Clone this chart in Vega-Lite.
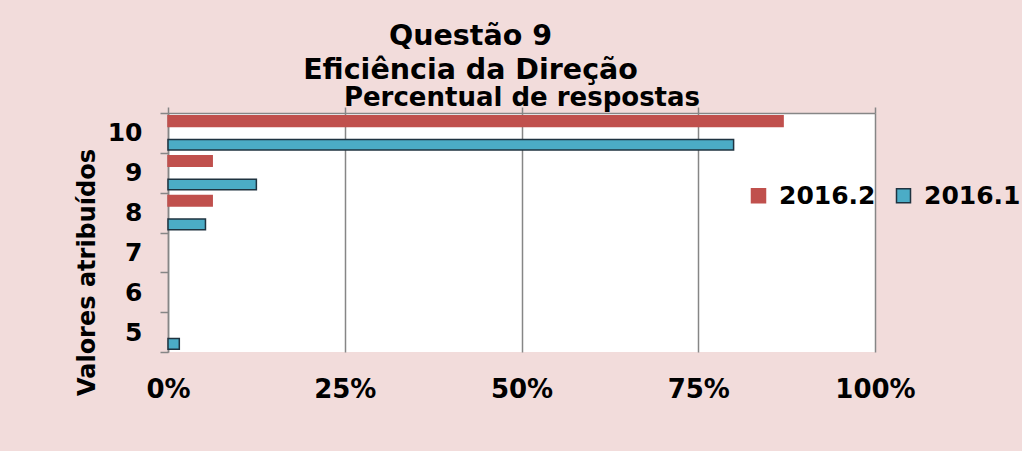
{
  "$schema": "https://vega.github.io/schema/vega-lite/v6.json",
  "width": 707,
  "height": 239,
  "autosize": "none",
  "padding": {"left": 168, "top": 113, "right": 147, "bottom": 99},
  "background": "#F2DCDB",
  "view": {"fill": "white", "stroke": null},
  "title": {
    "text": ["Questão 9", "Eficiência da Direção"],
    "font": "DejaVu Sans",
    "fontSize": 28.5,
    "fontWeight": "bold",
    "color": "black",
    "lineHeight": 34,
    "anchor": "middle",
    "dx": -51,
    "offset": 0
  },
  "data": {
    "values": [
      {"valor": "10", "ano": "2016.2", "pct": 0.87},
      {"valor": "10", "ano": "2016.1", "pct": 0.80},
      {"valor": "9", "ano": "2016.2", "pct": 0.0625},
      {"valor": "9", "ano": "2016.1", "pct": 0.125},
      {"valor": "8", "ano": "2016.2", "pct": 0.0625},
      {"valor": "8", "ano": "2016.1", "pct": 0.053},
      {"valor": "5", "ano": "2016.1", "pct": 0.016}
    ]
  },
  "encoding": {
    "y": {
      "field": "valor",
      "type": "nominal",
      "scale": {"domain": ["10", "9", "8", "7", "6", "5"], "paddingInner": 0, "paddingOuter": 0},
      "axis": {
        "title": "Valores atribuídos",
        "titleFont": "DejaVu Sans",
        "titleFontSize": 24,
        "titleFontWeight": "bold",
        "titleColor": "black",
        "titleX": -74,
        "titleY": 159,
        "titleAngle": -90,
        "titleBaseline": "alphabetic",
        "titleAlign": "center",
        "labelFont": "DejaVu Sans",
        "labelFontSize": 25,
        "labelFontWeight": "bold",
        "labelColor": "black",
        "labelPadding": 18,
        "labelAngle": 0,
        "tickBand": "extent",
        "tickSize": 8,
        "tickColor": "#868686",
        "tickWidth": 1.5,
        "domainColor": "#868686",
        "domainWidth": 1.5,
        "grid": false
      }
    },
    "yOffset": {
      "field": "ano",
      "type": "nominal",
      "scale": {"domain": ["2016.2", "2016.1"], "paddingInner": 0.55, "paddingOuter": 0.12}
    }
  },
  "layer": [
    {
      "mark": {"type": "bar", "opacity": 0},
      "encoding": {
        "x": {
          "field": "pct",
          "type": "quantitative",
          "scale": {"domain": [0, 1]},
          "axis": {
            "orient": "top",
            "values": [0, 0.25, 0.5, 0.75, 1],
            "labels": false,
            "ticks": true,
            "tickSize": 6,
            "tickColor": "#868686",
            "tickWidth": 1.5,
            "domain": true,
            "domainColor": "#868686",
            "domainWidth": 1.5,
            "grid": true,
            "gridColor": "#868686",
            "gridWidth": 1.5,
            "title": "Percentual de respostas",
            "titleFont": "DejaVu Sans",
            "titleFontSize": 26,
            "titleFontWeight": "bold",
            "titleColor": "black",
            "titleY": -8,
            "titleBaseline": "alphabetic"
          }
        }
      }
    },
    {
      "mark": {"type": "bar", "strokeWidth": 1.5},
      "encoding": {
        "x": {
          "field": "pct",
          "type": "quantitative",
          "scale": {"domain": [0, 1]},
          "axis": {
            "orient": "bottom",
            "values": [0, 0.25, 0.5, 0.75, 1],
            "format": ".0%",
            "labelFont": "DejaVu Sans",
            "labelFontSize": 26,
            "labelFontWeight": "bold",
            "labelColor": "black",
            "labelPadding": 24,
            "labelFlush": false,
            "labelOverlap": false,
            "labelBound": false,
            "ticks": false,
            "domain": false,
            "grid": false,
            "title": null
          }
        },
        "fill": {
          "field": "ano",
          "type": "nominal",
          "scale": {"domain": ["2016.2", "2016.1"], "range": ["#C0504D", "#4BACC6"]},
          "legend": {
            "title": null,
            "orient": "none",
            "legendX": 578,
            "legendY": 70,
            "direction": "horizontal",
            "symbolType": "square",
            "symbolSize": 196,
            "symbolStrokeWidth": 1.5,
            "labelFont": "DejaVu Sans",
            "labelFontSize": 25,
            "labelFontWeight": "bold",
            "labelColor": "black",
            "labelOffset": 8,
            "columnPadding": 15,
            "labelLimit": 400
          }
        },
        "stroke": {
          "field": "ano",
          "type": "nominal",
          "scale": {"domain": ["2016.2", "2016.1"], "range": ["#C0504D", "#1F3340"]},
          "legend": {
            "title": null,
            "orient": "none",
            "legendX": 578,
            "legendY": 70,
            "direction": "horizontal",
            "symbolType": "square",
            "symbolSize": 196,
            "symbolStrokeWidth": 1.5,
            "labelFont": "DejaVu Sans",
            "labelFontSize": 25,
            "labelFontWeight": "bold",
            "labelColor": "black",
            "labelOffset": 8,
            "columnPadding": 15,
            "labelLimit": 400
          }
        }
      }
    }
  ],
  "resolve": {"axis": {"x": "independent"}}
}
